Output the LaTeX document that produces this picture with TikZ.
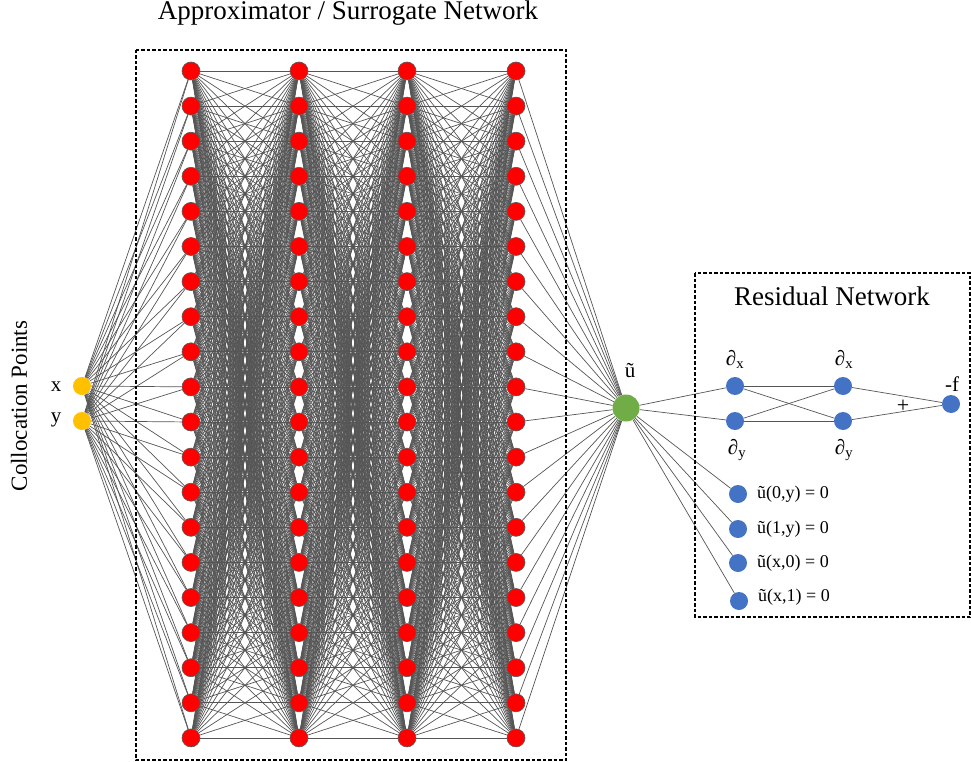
\documentclass[tikz,border=0pt]{standalone}
\usepackage{fontspec}
\setmainfont{Liberation Serif}
\usetikzlibrary{backgrounds}
\definecolor{nred}{HTML}{FF0000}
\definecolor{nyel}{HTML}{FFC000}
\definecolor{ngreen}{HTML}{70AD47}
\definecolor{nblue}{HTML}{4472C4}
\definecolor{edgegray}{HTML}{555555}
\begin{document}
\begin{tikzpicture}[x=1pt,y=-1pt,
  neuron/.style={circle,fill=nred,draw=black!65,line width=0.6pt,minimum size=18pt,inner sep=0pt},
  inneuron/.style={circle,fill=nyel,draw=none,minimum size=18pt,inner sep=0pt},
  outneuron/.style={circle,fill=ngreen,draw=none,minimum size=27pt,inner sep=0pt},
  bneuron/.style={circle,fill=nblue,draw=none,minimum size=18pt,inner sep=0pt},
  edge/.style={draw=edgegray,line width=0.7pt},
  dbox/.style={draw=black,line width=1.1pt,dash pattern=on 3.5pt off 2pt},
  lbl/.style={inner sep=0pt,font=\fontsize{21}{23}\selectfont},
  blbl/.style={inner sep=0pt,anchor=west,font=\fontsize{18}{20}\selectfont}]
\useasboundingbox (0,0) rectangle (971,762);
% boxes
\draw[dbox] (136,50) rectangle (566,760);
\draw[dbox] (695,273) rectangle (970,617);
% titles
\node[inner sep=0pt,font=\fontsize{27}{29}\selectfont] (title) at (348,13) {Approximator / Surrogate Network};
\node[inner sep=0pt,font=\fontsize{27}{29}\selectfont] (rtitle) at (832,296) {Residual Network};
\node[inner sep=0pt,rotate=90,font=\fontsize{23}{25}\selectfont] (coll) at (19,406) {Collocation Points};
% hidden layers
\foreach \l/\x in {1/191,2/299,3/407,4/516}
  \foreach \i in {0,...,19}
    \node[neuron] (n\l-\i) at (\x,{71+35.1*\i}) {};
% inputs
\node[inneuron] (inx) at (82,386) {};
\node[inneuron] (iny) at (82,421) {};
\node[lbl] (lx) at (56,387) {x};
\node[lbl] (ly) at (56,420) {y};
% output
\node[outneuron] (out) at (626,408) {};
\node[lbl] (lu) at (630,371) {ũ};
% residual network
\node[bneuron] (d1x) at (735,386) {};
\node[bneuron] (d1y) at (735,421) {};
\node[bneuron] (d2x) at (843,386) {};
\node[bneuron] (d2y) at (843,421) {};
\node[bneuron] (f) at (951,404) {};
\node[lbl] (l1x) at (735,359) {∂\textsubscript{x}};
\node[lbl] (l1y) at (737,450) {∂\textsubscript{y}};
\node[lbl] (l2x) at (844,359) {∂\textsubscript{x}};
\node[lbl] (l2y) at (844,450) {∂\textsubscript{y}};
\node[lbl] (lf) at (952,384) {-f};
\node[inner sep=0pt,font=\fontsize{22}{24}\selectfont] (plus) at (903,406) {+};
% boundary nodes
\node[bneuron] (b1) at (738,494) {};
\node[bneuron] (b2) at (738,529) {};
\node[bneuron] (b3) at (738,563) {};
\node[bneuron] (b4) at (739,601) {};
\node[blbl] (lb1) at (757,494) {ũ(0,y) = 0};
\node[blbl] (lb2) at (757,529) {ũ(1,y) = 0};
\node[blbl] (lb3) at (757,563) {ũ(x,0) = 0};
\node[blbl] (lb4) at (758,597) {ũ(x,1) = 0};
% edges
\begin{scope}[on background layer]
\foreach \l/\m in {1/2,2/3,3/4}
  \foreach \i in {0,...,19}
    \foreach \j in {0,...,19}
      \draw[edge] (n\l-\i) -- (n\m-\j);
\foreach \i in {0,...,19} {
  \draw[edge] (inx) -- (n1-\i);
  \draw[edge] (iny) -- (n1-\i);
  \draw[edge] (n4-\i) -- (out);
}
\foreach \t in {d1x,d1y,b1,b2,b3,b4}
  \draw[edge] (out) -- (\t);
\draw[edge] (d1x) -- (d2x);
\draw[edge] (d1x) -- (d2y);
\draw[edge] (d1y) -- (d2x);
\draw[edge] (d1y) -- (d2y);
\draw[edge] (d2x) -- (f);
\draw[edge] (d2y) -- (f);
\end{scope}
\end{tikzpicture}
\end{document}
